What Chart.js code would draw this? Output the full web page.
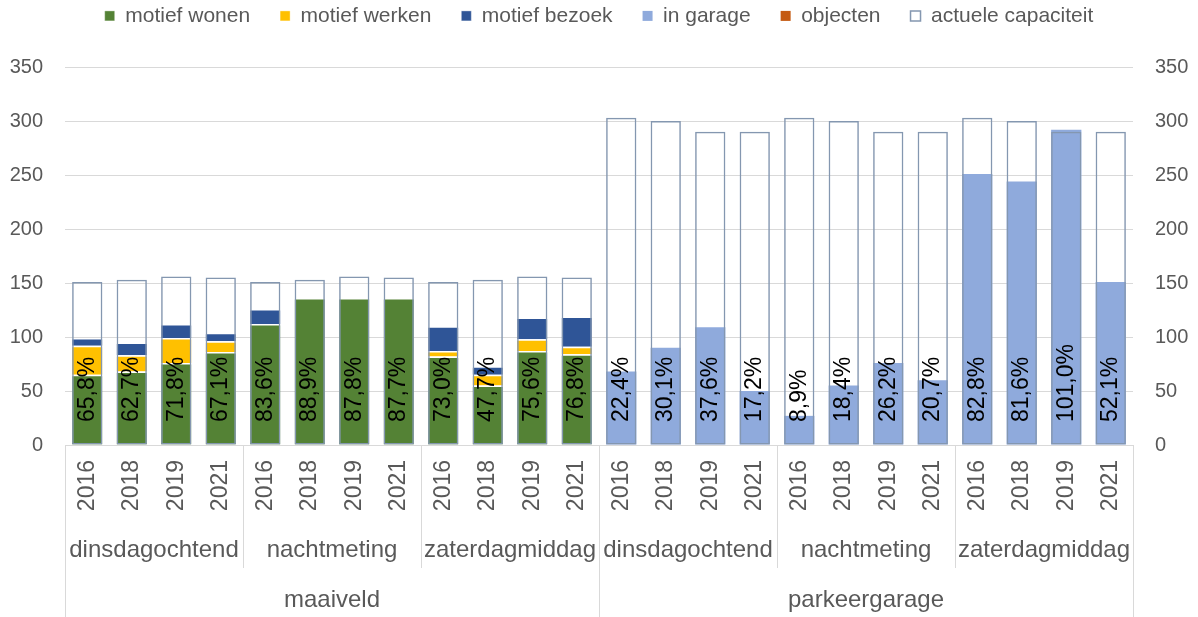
<!DOCTYPE html>
<html>
<head>
<meta charset="utf-8">
<script src="https://cdn.jsdelivr.net/npm/chart.js@4.4.1/dist/chart.umd.min.js"></script>
<style>
  html, body { margin: 0; padding: 0; background: #fff; }
  #wrap { width: 1198px; height: 617px; }
</style>
</head>
<body>
<div id="wrap"><canvas id="parkeerChart" width="1198" height="617"></canvas></div>
<script>
// categorieën (3 niveaus)
const jaren = [
  "2016", "2018", "2019", "2021", "2016", "2018", "2019", "2021", "2016", "2018", "2019", "2021",
  "2016", "2018", "2019", "2021", "2016", "2018", "2019", "2021", "2016", "2018", "2019", "2021"
];
const momenten = ["dinsdagochtend", "nachtmeting", "zaterdagmiddag", "dinsdagochtend", "nachtmeting", "zaterdagmiddag"];
const locaties = ["maaiveld", "parkeergarage"];

// series
const motiefWonen  = [65, 68, 76, 86, 112, 136, 136, 136, 82, 55, 87, 84, null, null, null, null, null, null, null, null, null, null, null, null];
const motiefWerken = [27, 15, 23, 10, 0, 0, 0, 0, 5, 10, 11, 7, null, null, null, null, null, null, null, null, null, null, null, null];
const motiefBezoek = [7, 12, 13, 8, 14, 0, 0, 0, 23, 8, 20, 28, null, null, null, null, null, null, null, null, null, null, null, null];
const inGarage     = [null, null, null, null, null, null, null, null, null, null, null, null, 68, 90, 109, 50, 27, 55, 76, 60, 251, 244, 292, 151];
const objecten     = [0, 0, 0, 0, 0, 0, 0, 0, 0, 0, 0, 0, null, null, null, null, null, null, null, null, null, null, null, null];
const capaciteit   = [151, 153, 156, 155, 151, 153, 156, 155, 151, 153, 156, 155, 303, 300, 290, 290, 303, 300, 290, 290, 303, 300, 290, 290];

// bezettingsgraad (%), labels in de staven
const bezetting = [65.8, 62.7, 71.8, 67.1, 83.6, 88.9, 87.8, 87.7, 73.0, 47.7, 75.6, 76.8,
                   22.4, 30.1, 37.6, 17.2, 8.9, 18.4, 26.2, 20.7, 82.8, 81.6, 101.0, 52.1];

const FONT = "'Liberation Sans', Arial, sans-serif";
const GRIJS = "#595959";
const LIJN = "#d9d9d9";

// legenda: vaste hoogte, tekst hoger zetten
const legendaPlek = {
  id: "legendaPlek",
  beforeInit(chart) {
    const fit = chart.legend.fit;
    chart.legend.fit = function () {
      fit.call(this);
      this.height = 67;
    };
  },
  afterLayout(chart) {
    chart.legend.top = 18 - 30 - 12.6;
  }
};

// percentages onderin de staven
const percentLabels = {
  id: "percentLabels",
  afterDatasetsDraw(chart) {
    const ctx = chart.ctx;
    const x = chart.scales.x;
    const y0 = chart.scales.y.getPixelForValue(0);
    ctx.save();
    ctx.font = "23px " + FONT;
    ctx.fillStyle = "#000";
    ctx.textAlign = "left";
    ctx.textBaseline = "middle";
    bezetting.forEach((v, i) => {
      ctx.save();
      ctx.translate(x.getPixelForValue(i), y0 - 23);
      ctx.rotate(-Math.PI / 2);
      ctx.fillText(v.toFixed(1).replace(".", ",") + "%", 0, 0);
      ctx.restore();
    });
    ctx.restore();
  }
};

// tweede en derde niveau van de x-as
const groepAs = {
  id: "groepAs",
  afterDraw(chart) {
    const { ctx, chartArea, scales: { x } } = chart;
    const n = jaren.length;
    const perMoment = n / momenten.length;
    const perLocatie = n / locaties.length;
    const rand = i => {
      if (i === 0) return chartArea.left;
      if (i === n) return chartArea.right;
      return (x.getPixelForValue(i - 1) + x.getPixelForValue(i)) / 2;
    };
    const top = chartArea.bottom;

    ctx.save();
    ctx.strokeStyle = LIJN;
    ctx.lineWidth = 1;
    for (let i = 0; i <= n; i += perMoment) {
      const px = Math.round(rand(i)) + 0.5;
      const lang = i % perLocatie === 0;
      ctx.beginPath();
      ctx.moveTo(px, top);
      ctx.lineTo(px, lang ? chart.height : 568);
      ctx.stroke();
    }

    ctx.fillStyle = GRIJS;
    ctx.textAlign = "center";
    ctx.textBaseline = "middle";
    ctx.font = "24px " + FONT;
    momenten.forEach((m, k) => {
      const cx = (rand(k * perMoment) + rand((k + 1) * perMoment)) / 2;
      ctx.fillText(m, cx, 550);
    });
    locaties.forEach((l, k) => {
      const cx = (rand(k * perLocatie) + rand((k + 1) * perLocatie)) / 2;
      ctx.fillText(l, cx, 600);
    });
    ctx.restore();
  }
};

const staaf = { top: 1.5, right: 0, bottom: 0, left: 0 };

new Chart(document.getElementById("parkeerChart"), {
  type: "bar",
  plugins: [legendaPlek, percentLabels, groepAs],
  data: {
    labels: jaren,
    datasets: [
      { label: "motief wonen", data: motiefWonen, backgroundColor: "#548235", borderColor: "#fff", borderWidth: staaf, stack: "bezet" },
      { label: "motief werken", data: motiefWerken, backgroundColor: "#ffc000", borderColor: "#fff", borderWidth: staaf, stack: "bezet" },
      { label: "motief bezoek", data: motiefBezoek, backgroundColor: "#2f5597", borderColor: "#fff", borderWidth: staaf, stack: "bezet" },
      { label: "in garage", data: inGarage, backgroundColor: "#8faadc", borderWidth: 0, stack: "bezet" },
      { label: "objecten", data: objecten, backgroundColor: "#c55a11", borderWidth: 0, stack: "bezet" },
      {
        label: "actuele capaciteit",
        data: capaciteit,
        backgroundColor: "rgba(255,255,255,0)",
        borderColor: "#8497b0",
        borderWidth: 1.5,
        borderSkipped: false,
        stack: "capaciteit",
        grouped: false,
        order: -1
      }
    ]
  },
  options: {
    responsive: false,
    animation: false,
    datasets: {
      bar: { categoryPercentage: 1, barPercentage: 0.68 }
    },
    layout: { padding: 0 },
    plugins: {
      legend: {
        position: "top",
        labels: {
          color: GRIJS,
          font: { family: FONT, size: 21 },
          boxWidth: 10,
          boxHeight: 10,
          padding: 30,
          sort: (a, b) => a.datasetIndex - b.datasetIndex
        }
      },
      tooltip: { enabled: false }
    },
    scales: {
      x: {
        stacked: true,
        grid: { display: false, drawTicks: false },
        border: { display: false },
        ticks: {
          color: GRIJS,
          font: { family: FONT, size: 23 },
          minRotation: 90,
          maxRotation: 90,
          autoSkip: false,
          padding: 15
        },
        afterFit(scale) { scale.height = 172; }
      },
      y: {
        stacked: true,
        min: 0,
        max: 350,
        ticks: { stepSize: 50, color: GRIJS, font: { family: FONT, size: 20 }, padding: 22 },
        grid: { color: LIJN, lineWidth: 1, drawTicks: false },
        border: { display: false },
        afterFit(scale) { scale.width = 65; }
      },
      y2: {
        position: "right",
        min: 0,
        max: 350,
        ticks: { stepSize: 50, color: GRIJS, font: { family: FONT, size: 20 }, padding: 22 },
        grid: { drawOnChartArea: false, drawTicks: false },
        border: { display: false },
        afterFit(scale) { scale.width = 65; }
      }
    }
  }
});
</script>
</body>
</html>
